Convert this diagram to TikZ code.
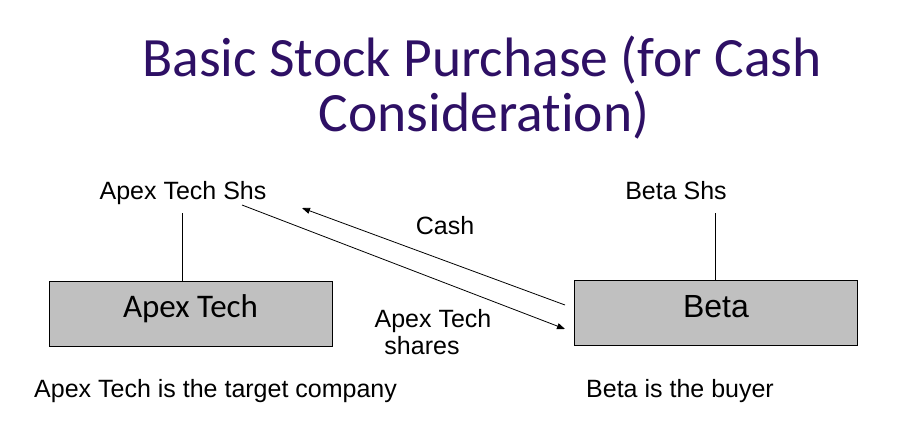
\documentclass[tikz,border=0pt]{standalone}
\usepackage{fontspec}
\setmainfont{Liberation Sans}
\newfontfamily\calibri[Ligatures=NoCommon]{Carlito}
\usetikzlibrary{arrows.meta}
\definecolor{titlepurple}{RGB}{46,16,101}
\definecolor{boxgray}{RGB}{192,192,192}
\begin{document}
\begin{tikzpicture}[x=1pt,y=-1pt,
  lbl/.style={inner sep=0pt,font=\fontsize{25}{27}\selectfont},
  ttl/.style={inner sep=0pt,anchor=base,text=titlepurple,font=\calibri\fontsize{55.5}{57}\selectfont},
  entity/.style={draw=black,line width=0.9pt,fill=boxgray,minimum width=283pt,minimum height=65pt,inner sep=0pt},
  conn/.style={line width=0.8pt},
  flow/.style={line width=0.8pt,-{Triangle[length=8pt,width=6pt]}}]
\useasboundingbox (0,0) rectangle (910,440);
\node[ttl] (t1) at (482,76) {Basic Stock Purchase (for Cash};
\node[ttl] (t2) at (484,131) {Consideration)};
% boxes
\node[entity,font=\calibri\fontsize{33}{35}\selectfont] (apex) at (190.5,313.5) {\raisebox{-3.5pt}[0pt][0pt]{Apex Tech}};
\node[entity,font=\fontsize{32}{34}\selectfont] (beta) at (716,313) {\raisebox{-4pt}[0pt][0pt]{Beta}};
% share labels
\node[lbl,anchor=base] (apexshs) at (183,199) {Apex Tech Shs};
\node[lbl,anchor=base] (betashs) at (676,199) {Beta Shs};
\coordinate (apextop) at (182,213);
\coordinate (apexjoin) at (182,281);
\coordinate (betatop) at (715,213);
\coordinate (betajoin) at (715,280);
\draw[conn] (apextop) -- (apexjoin);
\draw[conn] (betatop) -- (betajoin);
% flows
\coordinate (cashstart) at (565,305);
\coordinate (cashend) at (302,208);
\coordinate (shstart) at (242,205);
\coordinate (shend) at (565,329);
\draw[flow] (cashstart) -- (cashend);
\draw[flow] (shstart) -- (shend);
\node[lbl,anchor=base] (cash) at (445,234) {Cash};
\node[lbl,anchor=base] (shares1) at (433,327) {Apex Tech};
\node[lbl,anchor=base] (shares2) at (422,354) {shares};
% captions
\node[lbl,anchor=base west] (cap1) at (34,397) {Apex Tech is the target company};
\node[lbl,anchor=base west] (cap2) at (586,397) {Beta is the buyer};
\end{tikzpicture}
\end{document}
